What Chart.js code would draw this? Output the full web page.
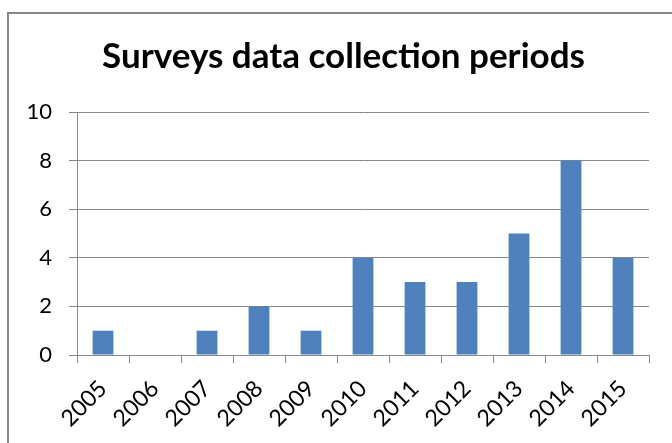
<!DOCTYPE html>
<html>
<head>
<meta charset="utf-8">
<script src="https://cdn.jsdelivr.net/npm/chart.js@4"></script>
<style>
  html, body { margin: 0; padding: 0; background: #fff; overflow: hidden; }
  #wrap { position: relative; width: 672px; height: 443px; }
  #frame { position: absolute; left: 7px; top: 12px; width: 800px; height: 600px;
           border-top: 2px solid #868686; border-left: 2px solid #868686; box-sizing: border-box; }
  canvas { position: absolute; left: 0; top: 0; }
</style>
</head>
<body>
<div id="wrap">
  <div id="frame"></div>
  <canvas id="barChart" width="672" height="443"></canvas>
</div>
<script>
const years = ['2005', '2006', '2007', '2008', '2009', '2010', '2011', '2012', '2013', '2014', '2015'];
const surveys = [1, 0, 1, 2, 1, 4, 3, 3, 5, 8, 4];
const yTicks = [0, 2, 4, 6, 8, 10];

const ctx = document.getElementById('barChart').getContext('2d');
const lineGray = '#868686';

new Chart(ctx, {
  type: 'bar',
  data: {
    labels: years,
    datasets: [{
      label: 'Surveys',
      data: surveys,
      backgroundColor: '#4F81BD',
      borderWidth: 0,
      barPercentage: 0.4,
      categoryPercentage: 1.0
    }]
  },
  options: {
    responsive: false,
    animation: false,
    layout: { padding: { left: 15, right: 0, top: 0, bottom: 0 } },
    plugins: {
      legend: { display: false },
      tooltip: { enabled: false },
      title: {
        display: true,
        text: 'Surveys data collection periods',
        color: '#000',
        font: { family: 'Lato', size: 35, weight: 'bold', lineHeight: 1.2 },
        padding: { top: 36, bottom: 34 }
      }
    },
    scales: {
      y: {
        min: 0,
        max: 10,
        afterBuildTicks: (axis) => { axis.ticks = yTicks.map(v => ({ value: v })); },
        afterFit: (axis) => { axis.width = 62; },
        ticks: {
          color: '#000',
          padding: 17,
          font: { family: 'Lato', size: 22 }
        },
        grid: { color: lineGray, lineWidth: 1, tickLength: 8 },
        border: { color: lineGray, width: 1 }
      },
      // empty right-hand spacer so the plot ends where the reference does
      yRight: {
        position: 'right',
        display: true,
        afterFit: (axis) => { axis.width = 23; },
        ticks: { display: false },
        grid: { drawOnChartArea: false, drawTicks: false },
        border: { display: false }
      },
      x: {
        afterFit: (axis) => { axis.height = 88; },
        ticks: {
          color: '#000',
          minRotation: 45,
          maxRotation: 45,
          padding: 12,
          labelOffset: 0,
          font: { family: 'Lato', size: 23 }
        },
        grid: { drawOnChartArea: false, color: lineGray, tickLength: 8, offset: true },
        border: { color: lineGray, width: 1 }
      }
    }
  }
});
</script>
</body>
</html>
